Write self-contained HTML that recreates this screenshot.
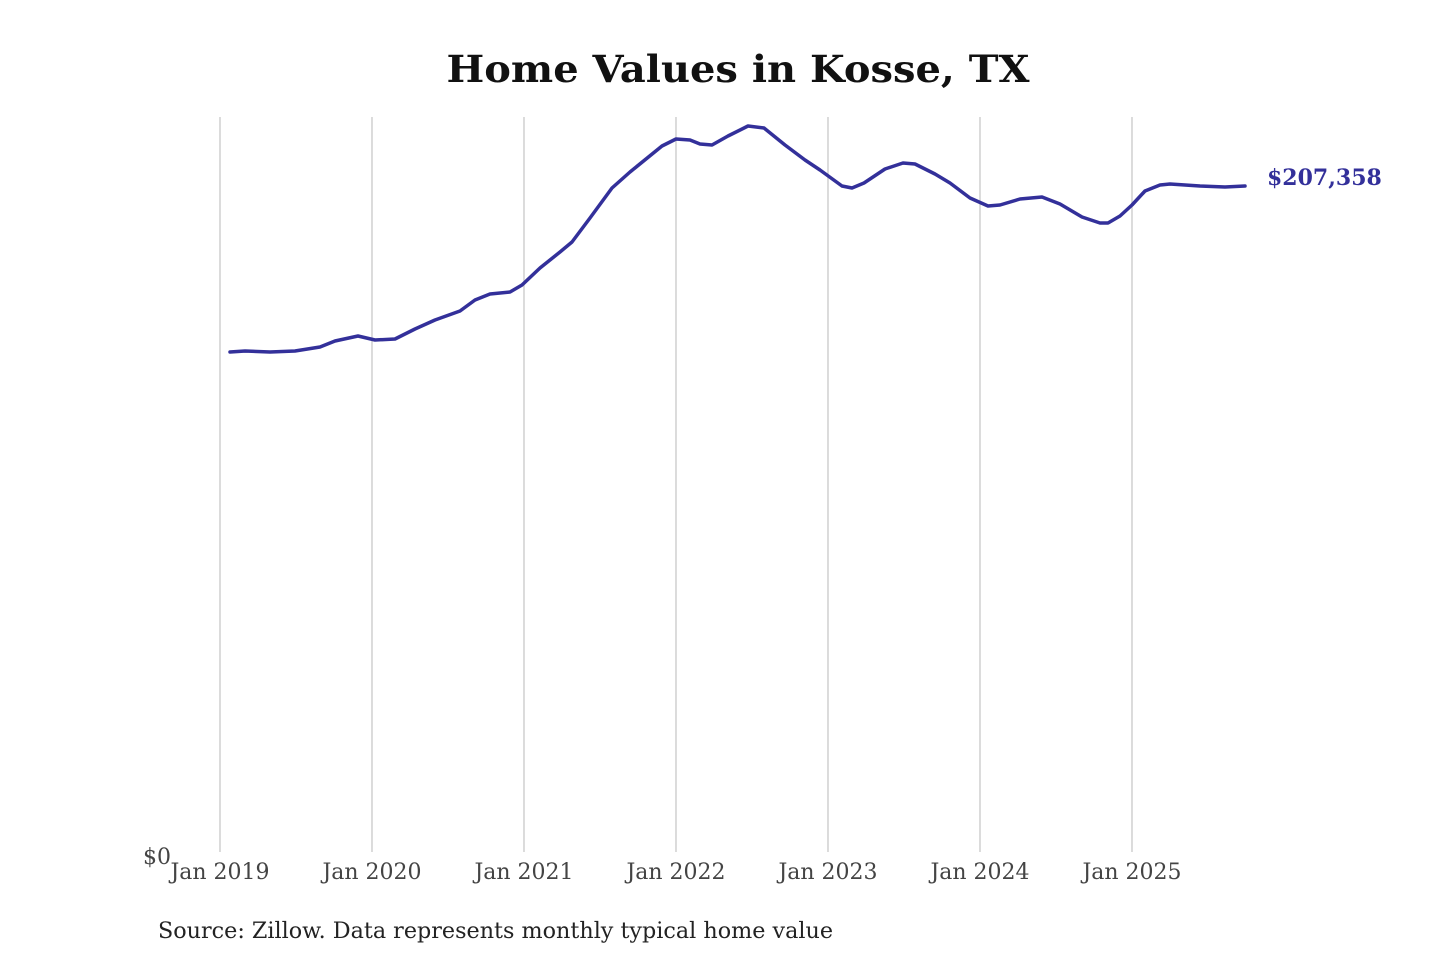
<!DOCTYPE html>
<html><head><meta charset="utf-8"><style>
html,body{margin:0;padding:0;background:#fff;}
svg{display:block;}
</style></head><body>
<svg width="1440" height="960" viewBox="0 0 1440 960" xmlns="http://www.w3.org/2000/svg">
<rect width="1440" height="960" fill="#fff"/>
<text x="738" y="82" text-anchor="middle" font-family="DejaVu Serif, Liberation Serif, serif" font-weight="bold" font-size="37" textLength="583" lengthAdjust="spacingAndGlyphs" fill="#111">Home Values in Kosse, TX</text>
<g stroke="#c8c8c8" stroke-width="1.3">
<line x1="220" y1="117" x2="220" y2="852"/>
<line x1="372" y1="117" x2="372" y2="852"/>
<line x1="524" y1="117" x2="524" y2="852"/>
<line x1="676" y1="117" x2="676" y2="852"/>
<line x1="828" y1="117" x2="828" y2="852"/>
<line x1="980" y1="117" x2="980" y2="852"/>
<line x1="1132" y1="117" x2="1132" y2="852"/>
</g>
<g font-family="DejaVu Serif, Liberation Serif, serif" font-size="22" fill="#444" text-anchor="middle">
<text x="220" y="879">Jan 2019</text>
<text x="372" y="879">Jan 2020</text>
<text x="524" y="879">Jan 2021</text>
<text x="676" y="879">Jan 2022</text>
<text x="828" y="879">Jan 2023</text>
<text x="980" y="879">Jan 2024</text>
<text x="1132" y="879">Jan 2025</text>
<text x="157" y="864">$0</text>
</g>
<polyline fill="none" stroke="#33309a" stroke-width="3.5" stroke-linejoin="round" stroke-linecap="round"
points="230,352 245,351 270,352 295,351 320,347 335,341 358,336 375,340 395,339 415,329 435,320 460,311 475,300 490,294 510,292 522,285 540,268 560,252 572,242 590,218 612,188 630,172 662,146 676,139 690,140 700,144 712,145 728,136 748,126 764,128 785,145 805,160 820,170 842,186 852,188 864,183 885,169 903,163 915,164 935,174 950,183 970,198 988,206 1000,205 1020,199 1042,197 1060,204 1082,217 1100,223 1108,223 1120,216 1132,205 1145,191 1160,185 1170,184 1200,186 1225,187 1245,186"/>
<text x="1267" y="185" font-family="DejaVu Serif, Liberation Serif, serif" font-weight="bold" font-size="22" fill="#33309a">$207,358</text>
<text x="158" y="938" font-family="DejaVu Serif, Liberation Serif, serif" font-size="22" textLength="675" lengthAdjust="spacingAndGlyphs" fill="#222">Source: Zillow. Data represents monthly typical home value</text>
</svg>
</body></html>
